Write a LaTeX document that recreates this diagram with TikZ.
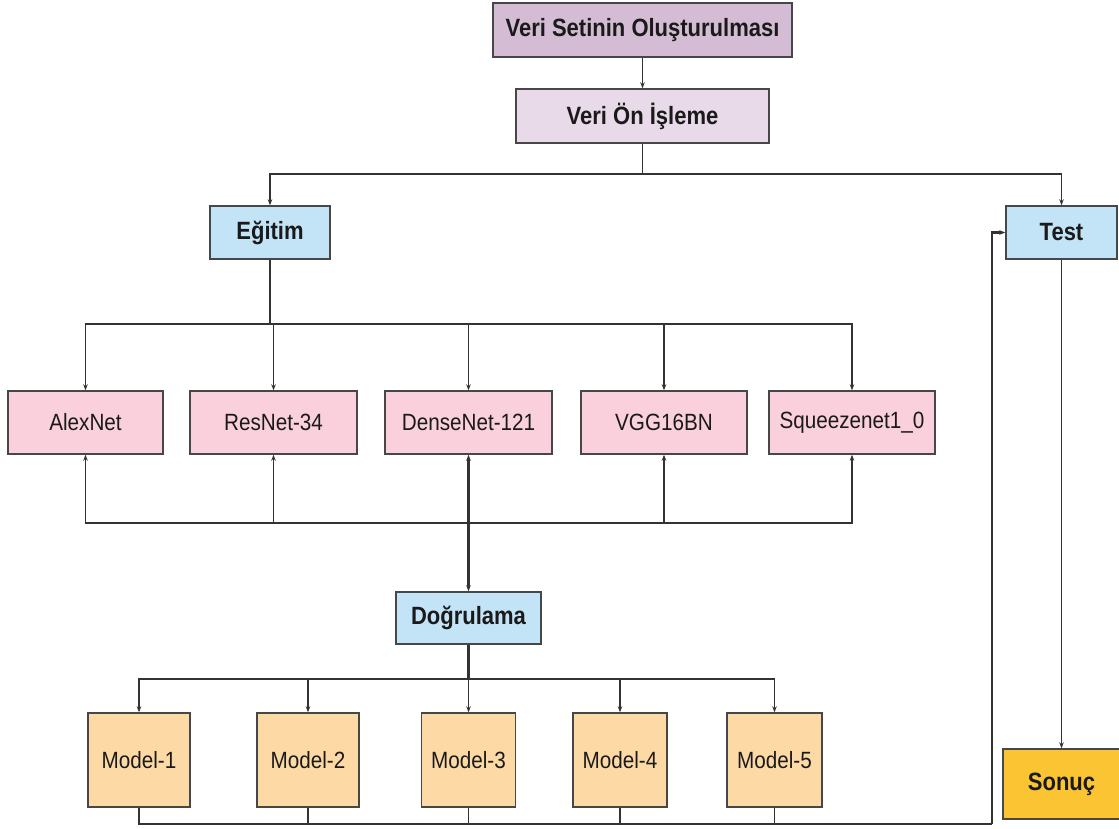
\documentclass[tikz,border=0pt]{standalone}
\usepackage{fontspec}
\setmainfont[FakeStretch=0.88]{Liberation Sans}
\usetikzlibrary{arrows.meta}
\definecolor{cTop}{HTML}{D4BCD4}
\definecolor{cPre}{HTML}{E8DAE8}
\definecolor{cBlue}{HTML}{C3E4F6}
\definecolor{cPink}{HTML}{F9D0DC}
\definecolor{cModel}{HTML}{FDDAA5}
\definecolor{cRes}{HTML}{FAC433}
\definecolor{cLine}{HTML}{333333}
\definecolor{cText}{HTML}{1A1A1A}
\tikzset{
  box/.style={draw=cLine!90, line width=1.4pt, rectangle, inner sep=0pt,
    text=cText, font=\fontsize{23.5}{28}\selectfont},
  bbox/.style={box, font=\fontsize{25}{30}\selectfont\bfseries},
  conn/.style={draw=cLine, line width=1.5pt},
  thk/.style={draw=cLine, line width=2.1pt},
  arr/.style={conn, -{Stealth[length=6pt,width=4.5pt]}},
  arrt/.style={thk, -{Stealth[length=6pt,width=4.5pt]}},
}
\begin{document}
\begin{tikzpicture}[x=1pt,y=-1pt]
\useasboundingbox[fill=white] (0,0) rectangle (1119,828);
% top
\node[bbox, fill=cTop, minimum width=299, minimum height=54] (vso) at (642.5,30) {Veri Setinin Oluşturulması};
\node[bbox, fill=cPre, minimum width=253, minimum height=54] (von) at (642.5,116) {Veri Ön İşleme};
\node[bbox, fill=cBlue, minimum width=120, minimum height=53] (egitim) at (270,232.5) {Eğitim};
\node[bbox, fill=cBlue, minimum width=111, minimum height=53] (test) at (1061.5,232.5) {Test};
% networks
\node[box, fill=cPink, minimum width=155, minimum height=63] (alex) at (85.5,422.5) {AlexNet};
\node[box, fill=cPink, minimum width=167, minimum height=63] (resnet) at (273.5,422.5) {ResNet-34};
\node[box, fill=cPink, minimum width=167, minimum height=63] (dense) at (468.5,422.5) {DenseNet-121};
\node[box, fill=cPink, minimum width=166, minimum height=63] (vgg) at (664,422.5) {VGG16BN};
\node[box, fill=cPink, minimum width=166, minimum height=63] (squeeze) at (852,422.5) {Squeezenet1\_0};
% validation
\node[bbox, fill=cBlue, minimum width=145, minimum height=52] (dogru) at (468.5,618) {Doğrulama};
% models
\node[box, fill=cModel, minimum width=102, minimum height=94] (m1) at (139,760) {Model-1};
\node[box, fill=cModel, minimum width=102, minimum height=94] (m2) at (308,760) {Model-2};
\node[box, fill=cModel, minimum width=94, minimum height=94] (m3) at (468.5,760) {Model-3};
\node[box, fill=cModel, minimum width=94, minimum height=94] (m4) at (620,760) {Model-4};
\node[box, fill=cModel, minimum width=95, minimum height=94] (m5) at (774.5,760) {Model-5};
% result
\node[bbox, fill=cRes, minimum width=117, minimum height=70] (sonuc) at (1061.5,784) {Sonuç};
% junctions
\coordinate (j1) at (642.5,174);
\coordinate (j2) at (270,324);
\coordinate (j3) at (468.5,523);
\coordinate (j4) at (468.5,679);
\coordinate (j5) at (992,824);
% connectors
\draw[arr] (vso) -- (von);
\draw[conn] (von.south) -- (j1);
\draw[arr] (j1) -| (egitim.north);
\draw[arr] (j1) -| (test.north);
\draw[thk] (egitim.south) -- (j2);
\foreach \n in {alex,resnet,dense,vgg,squeeze}{\draw[arr] (j2) -| (\n.north);}
\foreach \n in {alex,resnet,vgg,squeeze}{\draw[arr] (j3) -| (\n.south);}
\draw[arrt] (j3) -- (dense.south);
\draw[arrt] (j3) -- (dogru.north);
\draw[thk] (dogru.south) -- (j4);
\foreach \n in {m1,m2,m3,m4,m5}{\draw[arr] (j4) -| (\n.north);}
\draw[thk] (m1.south) |- (j5);
\foreach \n in {m2,m3,m4,m5}{\draw[conn] (\n.south) -- (\n.south |- j5);}
\draw[arrt] (j5) |- (test.west);
\draw[arr] (test) -- (sonuc);
\end{tikzpicture}
\end{document}
